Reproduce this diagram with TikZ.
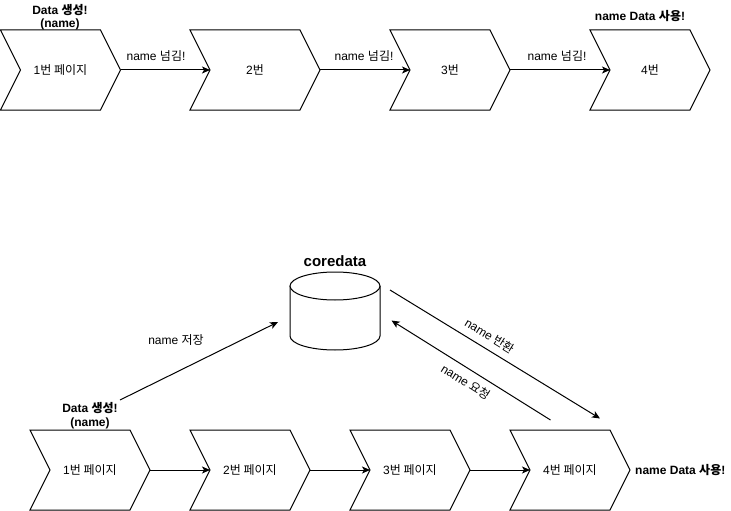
\documentclass[tikz,border=0pt]{standalone}
\usepackage{fontspec}
\setmainfont{Liberation Sans}
\newfontfamily\krfont{Noto Sans CJK KR}
\newcommand\kr[1]{{\krfont #1}}
\usetikzlibrary{arrows.meta,calc}
\tikzset{
  chevtext/.style={minimum height=80, inner sep=0pt, outer sep=0pt, draw=none, font=\fontsize{12}{14}\selectfont},
  chevline/.style={draw=black, line width=1pt, line join=miter, fill=white},
  lbl/.style={inner sep=0pt, font=\fontsize{12}{14}\selectfont},
  blbl/.style={inner sep=0pt, align=center, font=\fontsize{12}{13.5}\selectfont\bfseries},
  arr/.style={draw=black, line width=1pt, -{Stealth[length=8pt,width=7pt,inset=2pt]}},
  plain/.style={draw=black, line width=1pt}
}
\newcommand\chevron[5]{%
  \node[chevtext, minimum width=#4] (#1) at (#2+#4/2, #3+40) {#5};
  \draw[chevline] (#1.north west) -- ($(#1.north east)+(-20,0)$) -- (#1.east)
    -- ($(#1.south east)+(-20,0)$) -- (#1.south west) -- ($(#1.west)+(20,0)$) -- cycle;
  \node[chevtext, minimum width=#4] at (#1) {#5};
  \coordinate (#1-in) at ($(#1.west)+(20,0)$);
}
\begin{document}
\begin{tikzpicture}[x=1pt,y=-1pt]
\useasboundingbox (0,0) rectangle (731,511);
% ---------- top row ----------
\chevron{t1}{0.5}{30}{120}{1\kr{번 페이지}}
\chevron{t2}{190}{30}{130}{2\kr{번}}
\chevron{t3}{390}{30}{120}{3\kr{번}}
\chevron{t4}{590}{30}{120}{4\kr{번}}
\draw[arr] (t1.east) -- (t2-in);
\draw[arr] (t2.east) -- (t3-in);
\draw[arr] (t3.east) -- (t4-in);
\node[lbl] (tl1) at (156,56) {name \kr{넘김}!};
\node[lbl] (tl2) at (364,56) {name \kr{넘김}!};
\node[lbl] (tl3) at (557,56) {name \kr{넘김}!};
\node[blbl] (tc) at (60,17) {Data \kr{생성}!\\(name)};
\node[blbl] (tu) at (640,16.5) {name Data \kr{사용}!};
% ---------- bottom row ----------
\chevron{b1}{30}{430}{120}{1\kr{번 페이지}}
\chevron{b2}{190}{430}{120}{2\kr{번 페이지}}
\chevron{b3}{350}{430}{120}{3\kr{번 페이지}}
\chevron{b4}{510}{430}{120}{4\kr{번 페이지}}
\draw[arr] (b1.east) -- (b2-in);
\draw[arr] (b2.east) -- (b3-in);
\draw[arr] (b3.east) -- (b4-in);
\node[blbl] (bc) at (90,415.5) {Data \kr{생성}!\\(name)};
\node[blbl, anchor=west] (bu) at (635,470) {name Data \kr{사용}!};
% ---------- cylinder ----------
\node[minimum width=90, minimum height=78, inner sep=0pt, outer sep=0pt] (db) at (335,311) {};
\draw[plain, fill=white] (db.north west |- 0,286) -- (db.south west |- 0,336)
  arc[start angle=180, end angle=0, x radius=45, y radius=14] -- (db.north east |- 0,286);
\draw[plain, fill=white] (335,286) ellipse[x radius=45, y radius=14];
\node[inner sep=0pt, font=\fontsize{15}{17}\selectfont\bfseries] (dbt) at (335,261) {coredata};
% ---------- connectors to/from coredata ----------
\coordinate (s1) at (120,400);
\coordinate (e1) at (278,322);
\coordinate (s2) at (390,290);
\coordinate (e2) at (600,418.5);
\coordinate (s3) at (550.5,420);
\coordinate (e3) at (391.5,320.5);
\draw[arr] (s1) -- (e1);
\draw[arr] (s2) -- (e2);
\draw[arr] (s3) -- (e3);
\node[lbl] (sv) at (176,340) {name \kr{저장}};
\node[lbl, rotate=-31.4] (rt) at (490,336) {name \kr{반환}};
\node[lbl, rotate=-32] (rq) at (466,382) {name \kr{요청}};
\end{tikzpicture}
\end{document}
